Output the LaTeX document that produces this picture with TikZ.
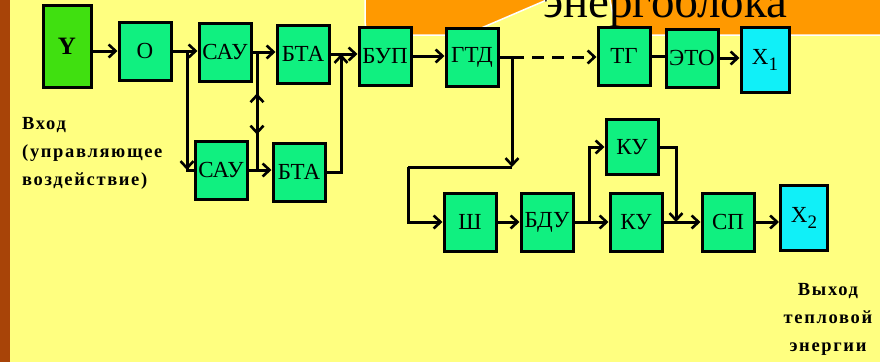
\documentclass[tikz,border=0pt]{standalone}
\usepackage{fontspec}
\setmainfont{Liberation Serif}
\usetikzlibrary{arrows.meta,decorations.markings}
\definecolor{fon}{RGB}{255,255,128}
\definecolor{zel}{RGB}{16,240,128}
\definecolor{zelY}{RGB}{64,224,16}
\definecolor{golub}{RGB}{16,240,248}
\definecolor{oranzh}{RGB}{255,153,0}
\definecolor{kraj}{RGB}{168,68,8}
\tikzset{
  blok/.style={draw=black,line width=3pt,fill=zel,minimum width=52pt,minimum height=58pt,inner sep=0pt,font=\fontsize{23}{23}\selectfont},
  liniya/.style={line width=3pt},
  strel/.style={line width=3pt,-{Straight Barb[length=7pt,width=13pt,line width=2.6pt]}},
  podpis/.style={inner sep=0pt,font=\fontsize{18.5}{28}\selectfont\bfseries\addfontfeature{LetterSpace=9}}
}
\begin{document}
\begin{tikzpicture}[x=1pt,y=-1pt]
	\useasboundingbox (0,0) rectangle (880,362);
	\clip (0,0) rectangle (880,362);
	\fill[fon] (0,0) rectangle (880,362);
	\fill[kraj] (0,0) rectangle (10,362);
	
	%Выноска
	\def\V{  (365,-30)--(365,11)
		..controls (365,35) .. (389,35)
		--(465,35)--(570,-10)--(608,-10)--(617,35)--(890,35)--(890,-30)--cycle
		;}
	\fill[oranzh] \V;
	\draw[white,line width=1.5pt] \V;
	\node[anchor=base west,inner sep=0pt,font=\fontsize{47}{47}\selectfont] (zag) at (543,17) {энергоблока};
	
	%Верхний ряд
	\node[blok,fill=zelY,minimum width=48pt,minimum height=82pt,font=\fontsize{25}{25}\selectfont\bfseries] (Y) at (67,46) {Y};
	\node[blok] (O) at (145,51) {О};
	\node[blok] (sau1) at (225,52) {САУ};
	\node[blok] (bta1) at (303,54) {БТА};
	\node[blok] (bup) at (385,56) {БУП};
	\node[blok] (gtd) at (472,57) {ГТД};
	\node[blok] (tg) at (624,56) {ТГ};
	\node[blok] (eto) at (692,58) {ЭТО};
	\node[blok,fill=golub,minimum width=48pt,minimum height=65pt] (x1) at (765,60) {X\raisebox{-6pt}{\fontsize{19}{19}\selectfont 1}};
	
	%Нижние блоки
	\node[blok] (sau2) at (221,170) {САУ};
	\node[blok] (bta2) at (299,172) {БТА};
	\node[blok] (sh) at (470,222) {Ш};
	\node[blok] (bdu) at (547,222) {БДУ};
	\node[blok,minimum height=55pt] (ku1) at (632,147) {КУ};
	\node[blok] (ku2) at (636,222) {КУ};
	\node[blok] (sp) at (728,222) {СП};
	\node[blok,fill=golub,minimum width=47pt,minimum height=65pt] (x2) at (804,218) {X\raisebox{-6pt}{\fontsize{19}{19}\selectfont 2}};
	
	%Узлы
	\coordinate (j1) at (187,51);
	\coordinate (j2) at (257,52);
	\coordinate (j3) at (341,54);
	\coordinate (j4) at (512,57);
	\coordinate (j5) at (512,167);
	\coordinate (j6) at (408,167);
	\coordinate (j7) at (589,222);
	\coordinate (j8) at (676,222);
	
	%---------стрелки
	\draw[strel] (O.west -| Y.east)--(O.west);
	\draw[strel] (O.east)--(O.east -| sau1.west);
	\draw[liniya] (j1) |- (sau2.west);
	\draw[strel] (j1)--(j1 |- sau2.west);
	\draw[strel] (sau1.east)--(sau1.east -| bta1.west);
	\draw[strel] (sau2.east)--(sau2.east -| bta2.west);
	\draw[liniya,postaction={decorate},decoration={markings,
		mark=at position 0.35 with {\arrowreversed{Straight Barb[length=7pt,width=13pt,line width=2.6pt]}},
		mark=at position 0.70 with {\arrow{Straight Barb[length=7pt,width=13pt,line width=2.6pt]}}}]
		(j2)--(j2 |- sau2.east);
	\draw[strel] (bta2.east) -| (j3);
	\draw[strel] (bta1.east)--(bta1.east -| bup.west);
	\draw[strel] (bup.east)--(bup.east -| gtd.west);
	\draw[liniya] (gtd.east)--(j4);
	\draw[strel,dash pattern=on 12pt off 8pt] (j4)--(j4 -| tg.west);
	\draw[liniya] (tg.east)--(tg.east -| eto.west);
	\draw[strel] (eto.east)--(eto.east -| x1.west);
	\draw[strel] (j4)--(j5);
	\draw[liniya] (j5)--(j6);
	\draw[strel] (j6) |- (sh.west);
	\draw[strel] (sh.east)--(sh.east -| bdu.west);
	\draw[strel] (bdu.east)--(bdu.east -| ku2.west);
	\draw[strel] (j7) |- (ku1.west);
	\draw[strel] (ku1.east) -| (j8);
	\draw[strel] (ku2.east)--(ku2.east -| sp.west);
	\draw[strel] (sp.east)--(sp.east -| x2.west);
	
	%Подписи
	\node[podpis,align=left,anchor=north west] (vhod) at (22,117) {Вход\\(управляющее\\воздействие)};
	\node[podpis,align=center,anchor=north] (vyhod) at (828,283) {Выход\\тепловой\\энергии};
\end{tikzpicture}
\end{document}
